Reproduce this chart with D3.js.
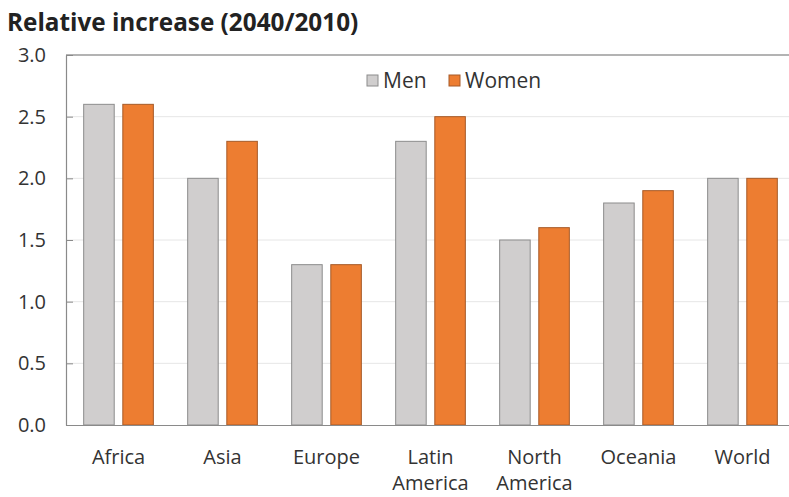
<!DOCTYPE html>
<html><head><meta charset="utf-8">
<script src="https://cdn.jsdelivr.net/npm/d3@7"></script>
<style>body{margin:0;background:#fff}svg{display:block}text{font-family:"Open Sans",sans-serif}</style>
</head><body><svg id="c" width="789" height="497"></svg>
<script>
const categories = ["Africa","Asia","Europe","Latin America","North America","Oceania","World"];
const men = [2.6, 2.0, 1.3, 2.3, 1.5, 1.8, 2.0];
const women = [2.6, 2.3, 1.3, 2.5, 1.6, 1.9, 2.0];
const seriesNames = ["Men","Women"];
const yTicks = [0,0.5,1.0,1.5,2.0,2.5,3.0];
const title = "Relative increase (2040/2010)";

const colors = {Men:"#d0cece", Women:"#ed7d31"};
const strokes = {Men:"#8c8c8c", Women:"#a65a28"};
const svg = d3.select("#c");
const m = {l:66, r:795, t:55, b:425};
const x = d3.scaleBand().domain(categories).range([m.l, m.r]).paddingInner(0.33).paddingOuter(0.17);
const xs = d3.scaleBand().domain(seriesNames).range([0, x.bandwidth()]).paddingInner(0.22);
const y = d3.scaleLinear().domain([0,3]).range([m.b, m.t]);

svg.append("text").attr("x",7).attr("y",31).attr("font-size",24.3).attr("font-weight","bold").attr("fill","#222").text(title);

// gridlines
svg.append("g").selectAll("line").data(yTicks.filter(d=>d>0 && d<3)).join("line")
  .attr("x1",m.l).attr("x2",789).attr("y1",d=>y(d)).attr("y2",d=>y(d)).attr("stroke","#e6e6e6").attr("stroke-width",1);
// top border
svg.append("line").attr("x1",m.l).attr("x2",789).attr("y1",y(3)).attr("y2",y(3)).attr("stroke","#9a9a9a").attr("stroke-width",1.5);

const data = categories.map((c,i)=>({c, vals:[{s:"Men",v:men[i]},{s:"Women",v:women[i]}]}));
svg.append("g").selectAll("g").data(data).join("g").attr("transform",d=>`translate(${x(d.c)},0)`)
  .selectAll("rect").data(d=>d.vals).join("rect")
  .attr("x",d=>xs(d.s)).attr("width",xs.bandwidth())
  .attr("y",d=>y(d.v)).attr("height",d=>y(0)-y(d.v))
  .attr("fill",d=>colors[d.s]).attr("stroke",d=>strokes[d.s]).attr("stroke-width",1);

// y axis
const ya = svg.append("g").attr("transform",`translate(${m.l},0)`)
  .call(d3.axisLeft(y).tickValues(yTicks).tickFormat(d3.format(".1f")).tickSizeInner(-7).tickSizeOuter(0).tickPadding(20));
ya.select(".domain").attr("stroke","#8a8a8a").attr("stroke-width",1.2);
ya.selectAll(".tick line").attr("stroke","#8a8a8a");
ya.selectAll("text").attr("font-size",20).attr("fill","#333").attr("font-family","Open Sans, sans-serif");

// x axis
const xa = svg.append("g").attr("transform",`translate(0,${m.b})`)
  .call(d3.axisBottom(x).tickSize(0).tickSizeOuter(0).tickPadding(0));
xa.select(".domain").attr("stroke","#8a8a8a").attr("stroke-width",1.2);
xa.selectAll("text").remove();
xa.selectAll(".tick").each(function(d){
  const words = d.split(" ");
  const t = d3.select(this).append("text").attr("text-anchor","middle").attr("font-size",20).attr("fill","#333");
  words.forEach((w,i)=>t.append("tspan").attr("x",0).attr("y",39+i*26).text(w));
});

// legend
const leg = svg.append("g");
const lx = {Men:367, Women:449};
seriesNames.forEach(s=>{
  leg.append("rect").attr("x",lx[s]).attr("y",75).attr("width",11).attr("height",11).attr("fill",colors[s]).attr("stroke",strokes[s]);
  leg.append("text").attr("x",lx[s]+16).attr("y",88).attr("font-size",21).attr("fill","#333").text(s);
});
</script></body></html>
